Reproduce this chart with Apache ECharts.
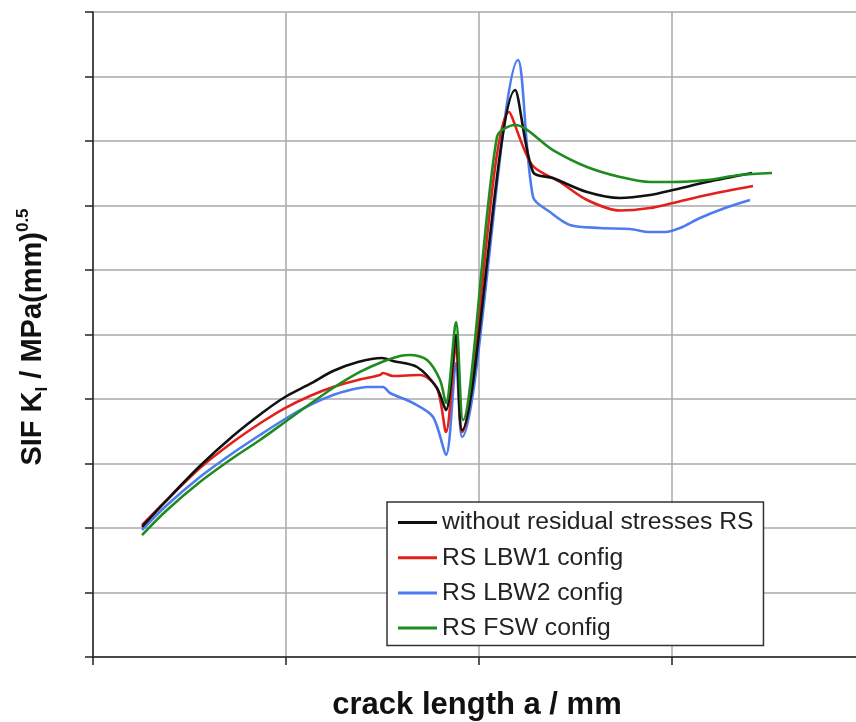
<!DOCTYPE html>
<html>
<head>
<meta charset="utf-8">
<script src="https://cdn.jsdelivr.net/npm/echarts@6/dist/echarts.min.js"></script>
<style>html,body{margin:0;padding:0;background:#fff;overflow:hidden}#c{width:856px;height:722px}</style>
</head>
<body>
<div id="c"></div>
<script>
// ---- data (crack length a / mm, SIF values) ----
const seriesNames = ['without residual stresses RS', 'RS LBW1 config', 'RS LBW2 config', 'RS FSW config'];

const blackX = [0.254,0.378,0.554,0.725,0.876,0.995,1.124,1.244,1.373,1.497,1.554,1.679,1.782,1.829,1.881,1.912,2.187,2.280,2.383,2.560,2.731,2.886,3.005,3.181,3.415];
const blackY = [2.016,2.419,2.961,3.426,3.783,4.031,4.233,4.434,4.574,4.636,4.589,4.496,4.171,3.829,4.992,3.519,8.791,7.519,7.426,7.209,7.116,7.163,7.240,7.364,7.504];

const redX = [0.254,0.378,0.554,0.725,0.876,0.995,1.124,1.244,1.373,1.487,1.503,1.554,1.694,1.782,1.829,1.881,1.912,2.155,2.275,2.420,2.560,2.731,2.886,3.005,3.181,3.420];
const redY = [2.047,2.419,2.930,3.333,3.643,3.860,4.047,4.186,4.295,4.372,4.403,4.357,4.372,4.171,3.488,4.837,3.488,8.450,7.628,7.364,7.085,6.922,6.961,7.039,7.163,7.302];

const blueX = [0.254,0.378,0.554,0.725,0.865,0.995,1.124,1.244,1.332,1.420,1.503,1.539,1.658,1.762,1.829,1.881,1.912,2.202,2.280,2.368,2.472,2.627,2.782,2.886,2.964,3.041,3.145,3.275,3.404];
const blueY = [1.969,2.341,2.791,3.163,3.442,3.690,3.907,4.062,4.140,4.186,4.186,4.093,3.938,3.721,3.132,4.558,3.411,9.256,7.132,6.899,6.698,6.651,6.636,6.589,6.589,6.651,6.806,6.961,7.085];

const greenX = [0.254,0.378,0.554,0.725,0.865,0.995,1.124,1.244,1.383,1.497,1.591,1.642,1.731,1.798,1.829,1.881,1.917,2.093,2.187,2.383,2.560,2.731,2.886,3.005,3.181,3.352,3.518];
const greenY = [1.891,2.264,2.713,3.085,3.364,3.643,3.922,4.171,4.419,4.574,4.667,4.682,4.605,4.295,3.938,5.194,3.674,8.062,8.248,7.860,7.597,7.442,7.364,7.364,7.395,7.473,7.504];

const colors = ['#111111', '#e3201b', '#4d7cf0', '#1e8c1e'];

function zip(xs, ys) { return xs.map((x, i) => [x, ys[i]]); }
const dataSets = [zip(blackX, blackY), zip(redX, redY), zip(blueX, blueY), zip(greenX, greenY)];

const chart = echarts.init(document.getElementById('c'), null, {renderer: 'canvas'});

const drawOrder = [2, 1, 0, 3];
const series = drawOrder.map(i => ({
  name: seriesNames[i],
  type: 'line',
  data: dataSets[i],
  showSymbol: false,
  symbol: 'none',
  smooth: 0.3,
  lineStyle: {color: colors[i], width: 2.6},
  itemStyle: {color: colors[i]},
  animation: false
}));

chart.setOption({
  animation: false,
  backgroundColor: '#ffffff',
  grid: {left: 93, right: -9, top: 12, bottom: 65, outerBoundsMode: 'none', containLabel: false},
  xAxis: {
    type: 'value', min: 0, max: 4, interval: 1,
    axisLine: {show: true, lineStyle: {color: '#222', width: 1.5}},
    axisTick: {show: true, inside: false, length: 8, lineStyle: {color: '#222', width: 1.5}},
    axisLabel: {show: false},
    splitLine: {show: true, lineStyle: {color: '#a8a8a8', width: 1.5}}
  },
  yAxis: {
    type: 'value', min: 0, max: 10, interval: 1,
    axisLine: {show: true, lineStyle: {color: '#222', width: 1.5}},
    axisTick: {show: true, inside: false, length: 8, lineStyle: {color: '#222', width: 1.5}},
    axisLabel: {show: false},
    splitLine: {show: true, lineStyle: {color: '#a8a8a8', width: 1.5}}
  },
  legend: {
    data: seriesNames,
    orient: 'vertical',
    left: 387, top: 502,
    padding: [8, 10, 5, 11],
    itemGap: 10.2,
    itemWidth: 39, itemHeight: 3,
    icon: 'rect',
    borderColor: '#333', borderWidth: 1.5,
    backgroundColor: '#fff',
    textStyle: {fontFamily: 'Liberation Sans, Arial, sans-serif', fontSize: 24.7, lineHeight: 24, color: '#222'}
  },
  graphic: [
    {
      type: 'text', x: 477, y: 705, silent: true,
      style: {
        text: 'crack length a / mm',
        font: 'bold 31px "Liberation Sans", Arial, sans-serif',
        fill: '#111', align: 'center', verticalAlign: 'middle'
      }
    },
    {
      type: 'text', x: 33, y: 337, rotation: Math.PI / 2, silent: true,
      style: {
        text: 'SIF K{sub|I} / MPa(mm){sup|0.5}',
        font: 'bold 29px "Liberation Sans", Arial, sans-serif',
        fill: '#111', align: 'center', verticalAlign: 'middle',
        lineHeight: 36,
        rich: {
          sub: {font: 'bold 17px "Liberation Sans", Arial, sans-serif', fill: '#111', verticalAlign: 'bottom', lineHeight: 17},
          sup: {font: 'bold 17px "Liberation Sans", Arial, sans-serif', fill: '#111', verticalAlign: 'top', lineHeight: 17}
        }
      }
    }
  ],
  series: series
});
</script>
</body>
</html>
